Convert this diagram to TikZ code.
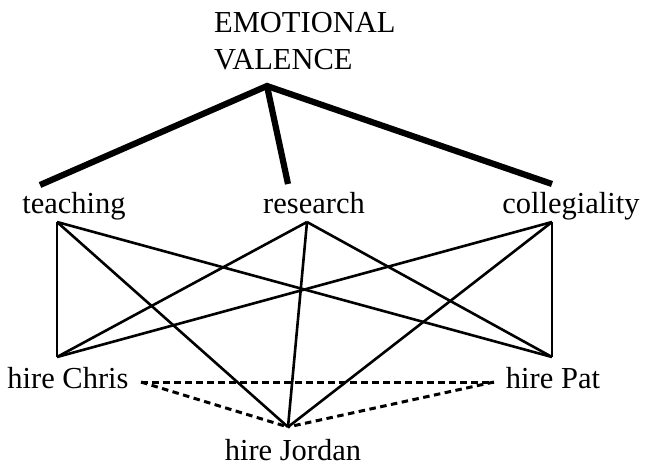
\documentclass[tikz,border=0pt]{standalone}
\usepackage{fontspec}
\setmainfont{Liberation Serif}

\begin{document}
\begin{tikzpicture}[x=1pt,y=-1pt,
  word/.style={font=\fontsize{30.5}{37}\selectfont,inner sep=0pt},
  valencelink/.style={line width=6.2pt},
  weighlink/.style={line width=2.6pt},
  rivallink/.style={line width=3pt,dash pattern=on 6.5pt off 4.5pt}]
  \useasboundingbox (0,0) rectangle (645,468);

  % labels
  \node[word,anchor=base west,align=left] (valence) at (214,70) {EMOTIONAL\\VALENCE};
  \node[word,anchor=base] (teaching) at (74,213) {teaching};
  \node[word,anchor=base] (research) at (314,213) {research};
  \node[word,anchor=base] (collegiality) at (571,213) {collegiality};
  \node[word,anchor=base] (chris) at (68,388) {hire Chris};
  \node[word,anchor=base] (pat) at (553,388) {hire Pat};
  \node[word,anchor=base] (jordan) at (293,460) {hire Jordan};

  % where the lines meet
  \coordinate (valence-down) at (267,86);
  \coordinate (teaching-up) at (40,185);
  \coordinate (research-up) at (288,184);
  \coordinate (collegiality-up) at (552,184);
  \coordinate (teaching-down) at (57,222);
  \coordinate (research-down) at (307,222);
  \coordinate (collegiality-down) at (552,222);
  \coordinate (chris-up) at (57,357);
  \coordinate (pat-up) at (552,357);
  \coordinate (jordan-up) at (288,427);
  \coordinate (chris-right) at (141,382);
  \coordinate (pat-left) at (494,382);

  \begin{scope}[valencelink]
  \draw (teaching-up) -- (valence-down) -- (collegiality-up);
  \draw (valence-down) -- (research-up);
  \end{scope}

  \begin{scope}[weighlink]
  \foreach \goal in {teaching,research,collegiality}
    \foreach \act in {chris,jordan,pat}
      \draw (\goal-down) -- (\act-up);
  \end{scope}

  \begin{scope}[rivallink]
  \draw (chris-right) -- (pat-left);
  \draw (chris-right) -- (jordan-up);
  \draw (pat-left) -- (jordan-up);
  \end{scope}
\end{tikzpicture}
\end{document}
